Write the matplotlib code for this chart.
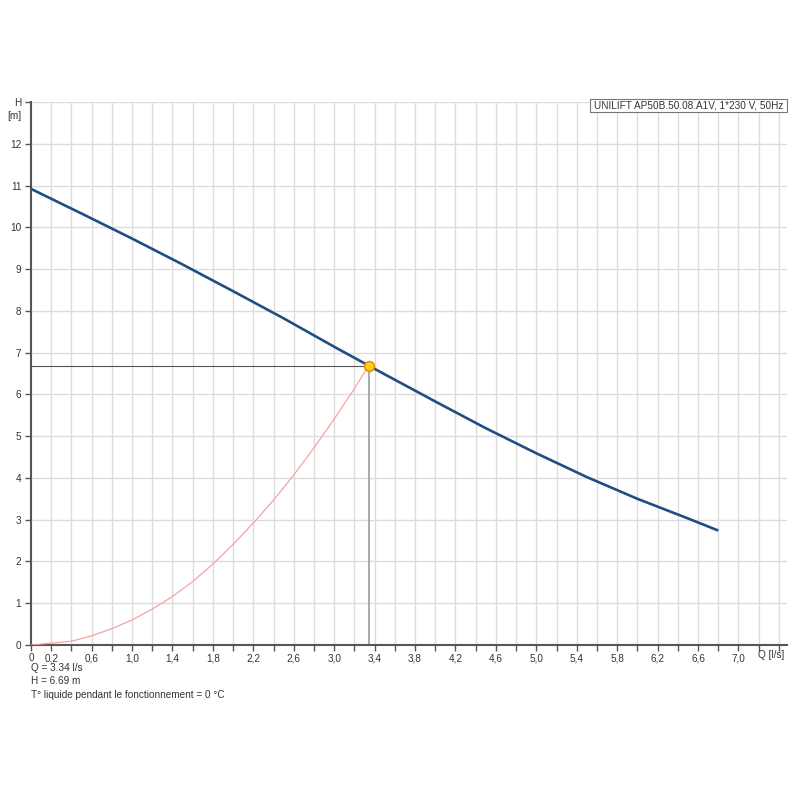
import matplotlib
matplotlib.use("Agg")
import matplotlib.pyplot as plt
from matplotlib.patches import Rectangle
import numpy as np

plt.rcParams['font.family'] = ['Liberation Sans', 'DejaVu Sans']

# Pump curve (Q in l/s, H in m)
pump_q = [0.0, 0.5, 1.0, 1.5, 2.0, 2.5, 3.0, 3.34, 3.5, 4.0, 4.5, 5.0, 5.5, 6.0, 6.5, 6.80]
pump_h = [10.92, 10.33, 9.73, 9.11, 8.47, 7.82, 7.14, 6.69, 6.48, 5.83, 5.19, 4.59, 4.02, 3.50, 3.03, 2.74]

# System curve
sys_q = [0.0, 0.4, 0.6, 0.8, 1.0, 1.2, 1.4, 1.6, 1.8, 2.0, 2.2, 2.4, 2.6, 2.8, 3.0, 3.2, 3.34]
sys_h = [0.0, 0.09, 0.22, 0.39, 0.60, 0.86, 1.16, 1.52, 1.94, 2.41, 2.92, 3.47, 4.07, 4.72, 5.41, 6.14, 6.69]

# Duty point
duty_q = 3.34
duty_h = 6.69

x_label_ticks = [0, 0.2, 0.6, 1.0, 1.4, 1.8, 2.2, 2.6, 3.0, 3.4, 3.8, 4.2, 4.6, 5.0, 5.4, 5.8, 6.2, 6.6, 7.0]
y_ticks = list(range(0, 13))

title_box = "UNILIFT AP50B.50.08.A1V, 1*230 V, 50Hz"
info_lines = ["Q = 3.34 l/s", "H = 6.69 m", "T° liquide pendant le fonctionnement = 0 °C"]

FS = 7.2
TXT = '#333333'

fig = plt.figure(figsize=(8, 8), dpi=100)
ax = fig.add_axes([31/800, 1-645/800, (787-31)/800, (645-102)/800])

ax.set_xlim(0, 7.48)
ax.set_ylim(0, 13)

# grid
minor_x = np.arange(0, 7.41, 0.2)
for xv in minor_x[1:]:
    ax.axvline(xv, color='#dcdcdc', lw=1, zorder=0)
for yv in range(1, 14):
    ax.axhline(yv, color='#dcdcdc', lw=1, zorder=0)

def lab(v):
    if abs(v) < 1e-9:
        return "0"
    if any(abs(v - t) < 1e-6 for t in x_label_ticks):
        return ("%.1f" % v).replace('.', ',')
    return ""

ax.set_xticks(minor_x)
ax.set_xticklabels([lab(v) for v in minor_x])
ax.set_yticks(y_ticks + [13])
ax.set_yticklabels([str(v) for v in y_ticks] + ["H"])
ax.tick_params(axis='both', direction='out', length=4, width=1, color='#555555',
               labelsize=FS, labelcolor=TXT, pad=3)
ax.tick_params(axis='x', pad=2)
ax.text(-0.1, 12.78, "[m]", ha='right', va='top', fontsize=FS, color=TXT)
ax.text(7.32, -0.12, "Q [l/s]", ha='center', va='top', fontsize=FS, color=TXT)

for s in ['top', 'right']:
    ax.spines[s].set_visible(False)
for s in ['left', 'bottom']:
    ax.spines[s].set_color('#555555')
    ax.spines[s].set_linewidth(1.5)

# reference lines
ax.plot([0, duty_q], [duty_h, duty_h], color='#555555', lw=0.8, zorder=2)
ax.plot([duty_q, duty_q], [0, duty_h], color='#a8a8a8', lw=1.4, zorder=2)

ax.plot(sys_q, sys_h, color='#f4a3a3', lw=0.9, zorder=3)
ax.plot(pump_q, pump_h, color='#1f4f82', lw=1.9, zorder=4, solid_capstyle='butt')
ax.plot([duty_q], [duty_h], 'o', ms=7, mfc='#ffd21f', mec='#f08a00', mew=1.2, zorder=5)

# title box
fig.patches.append(Rectangle((590/800, 1-112/800), (787-590)/800, 13/800,
                             transform=fig.transFigure, fc='white', ec='#777777', lw=0.8, zorder=10))
fig.text(594/800, 1-105.5/800, title_box, fontsize=FS, color=TXT, va='center', ha='left', zorder=11)

for i, line in enumerate(info_lines):
    fig.text(31/800, 1-(668 + 13.5*i)/800, line, fontsize=FS, color=TXT, va='center', ha='left')

fig.savefig("out.png", dpi=100, facecolor='white')
